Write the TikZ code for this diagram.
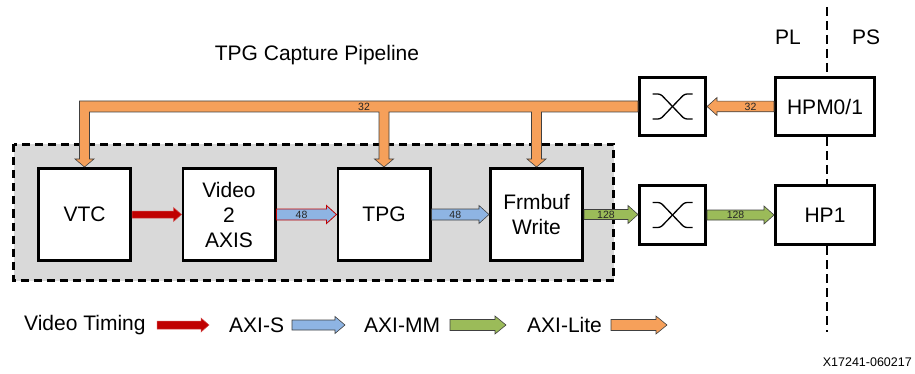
\documentclass[tikz,border=0pt]{standalone}
\usepackage{fontspec}
\setmainfont{Liberation Sans}
\usetikzlibrary{calc}
\definecolor{busorange}{HTML}{F6A05A}
\definecolor{axisblue}{HTML}{8EB4E3}
\definecolor{mmgreen}{HTML}{9BBB59}
\definecolor{vtred}{HTML}{C00000}
\definecolor{pipegray}{HTML}{D9D9D9}
\definecolor{edgegray}{HTML}{404040}
% #1 start, #2 end, #3 half shaft, #4 half head, #5 head length (signed), #6 style
\newcommand{\fatarrowH}[6]{%
  \path[#6] let \p1=(#1), \p2=(#2) in
    (\x1,{\y1+#3}) -- ({\x2-(#5)},{\y1+#3}) -- ({\x2-(#5)},{\y1+#4}) -- (\x2,\y1)
    -- ({\x2-(#5)},{\y1-#4}) -- ({\x2-(#5)},{\y1-#3}) -- (\x1,{\y1-#3}) -- cycle;}
\begin{document}
\begin{tikzpicture}[x=1pt,y=-1pt,
  blk/.style={draw=black,line width=2.6pt,fill=white,inner sep=0pt,align=center,
    font=\fontsize{21}{25}\selectfont},
  sq/.style={blk,minimum width=92.4pt,minimum height=92.4pt},
  lbl/.style={font=\fontsize{21}{25}\selectfont,inner sep=0pt},
  num/.style={font=\fontsize{10.5}{12}\selectfont,inner sep=0pt,text=black!85},
  pipebox/.style={fill=pipegray,draw=black,line width=2.5pt,dash pattern=on 8pt off 5pt},
  pldash/.style={draw=black,line width=2.5pt,dash pattern=on 9pt off 5pt},
  xsym/.style={draw=black,line width=1.3pt,rounded corners=2.5pt},
  orangearr/.style={fill=busorange,draw=edgegray,line width=0.6pt},
  bluearr/.style={fill=axisblue,draw=edgegray,line width=0.6pt},
  blueredarr/.style={fill=axisblue,draw=vtred,line width=0.8pt},
  greenarr/.style={fill=mmgreen,draw=edgegray,line width=0.6pt},
  redarr/.style={fill=vtred,draw=vtred!70,line width=0.5pt}
]
\useasboundingbox (0,0) rectangle (915,374);

% pipeline region
\path[pipebox] (13.5,144.5) rectangle (613.5,280.5);

% blocks
\node[sq] (vtc) at (84.5,214.5) {VTC};
\node[sq] (v2a) at (229,214.5) {Video\\2\\AXIS};
\node[sq] (tpg) at (384,214.5) {TPG};
\node[sq] (fw)  at (536.5,214.5) {Frmbuf\\Write};
\node[blk,minimum width=66.4pt,minimum height=58.4pt] (xb1) at (672.5,106.5) {};
\node[blk,minimum width=99.4pt,minimum height=58.4pt] (hpm) at (825,106.5) {HPM0/1};
\node[blk,minimum width=66.4pt,minimum height=59.4pt] (xb2) at (672.5,215) {};
\node[blk,minimum width=99.4pt,minimum height=59.4pt] (hp1) at (825,215) {HP1};

% crossbar symbols
\draw[xsym] ($(xb1.center)+(-20,-12.5)$) -- ++(8,0) -- ++(24,25) -- ++(8,0);
\draw[xsym] ($(xb1.center)+(20,-12.5)$) -- ++(-8,0) -- ++(-24,25) -- ++(-8,0);
\draw[xsym] ($(xb2.center)+(-20,-12.5)$) -- ++(8,0) -- ++(24,25) -- ++(8,0);
\draw[xsym] ($(xb2.center)+(20,-12.5)$) -- ++(-8,0) -- ++(-24,25) -- ++(-8,0);

% titles
\node[lbl] (title) at (317,55) {TPG Capture Pipeline};
\node[lbl] (pl) at (788,37) {PL};
\node[lbl] (ps) at (866,37) {PS};

% PL/PS boundary
\coordinate (plt) at (827,7);
\coordinate (plb) at (827,332);
\draw[pldash] (plt) -- (plt |- hpm.north);
\draw[pldash] (plt |- hpm.south) -- (plt |- hp1.north);
\draw[pldash] (plt |- hp1.south) -- (plb);

% AXI-Lite bus
\path[orangearr] let \p1=(xb1.west), \p2=(vtc.north), \p3=(tpg.north), \p4=(fw.north) in
  (\x1,\y1+5.5pt) -- (\x2-5pt,\y1+5.5pt) -- (\x2-5pt,\y2+8pt) -- (\x2-9.5pt,\y2+8pt)
  -- (\x2,\y2) -- (\x2+9.5pt,\y2+8pt) -- (\x2+5pt,\y2+8pt) -- (\x2+5pt,\y1-5.5pt)
  -- (\x3-5pt,\y1-5.5pt) -- (\x3-5pt,\y3+8pt) -- (\x3-9.5pt,\y3+8pt) -- (\x3,\y3)
  -- (\x3+9.5pt,\y3+8pt) -- (\x3+5pt,\y3+8pt) -- (\x3+5pt,\y1-5.5pt)
  -- (\x4-5pt,\y1-5.5pt) -- (\x4-5pt,\y4+8pt) -- (\x4-9.5pt,\y4+8pt) -- (\x4,\y4)
  -- (\x4+9.5pt,\y4+8pt) -- (\x4+5pt,\y4+8pt) -- (\x4+5pt,\y1-5.5pt)
  -- (\x1,\y1-5.5pt) -- cycle;
\node[num] (n32a) at (364,107) {32};

\fatarrowH{hpm.west}{xb1.east}{5.3pt}{9pt}{-10pt}{orangearr}
\node[num] (n32b) at ($(hpm.west)!0.5!(xb1.east)+(10,0.5)$) {32};

% data path
\fatarrowH{vtc.east}{v2a.west}{3.5pt}{7pt}{8pt}{redarr}
\fatarrowH{v2a.east}{tpg.west}{5.5pt}{9pt}{10pt}{blueredarr}
\node[num] (n48a) at ($(v2a.east)!0.5!(tpg.west)+(-5,0)$) {48};
\fatarrowH{tpg.east}{fw.west}{5.5pt}{9pt}{10pt}{bluearr}
\node[num] (n48b) at ($(tpg.east)!0.5!(fw.west)+(-5,0)$) {48};
\fatarrowH{fw.east}{xb2.west}{5pt}{9pt}{10pt}{greenarr}
\node[num] (n128a) at ($(fw.east)!0.5!(xb2.west)+(-5,0)$) {128};
\fatarrowH{xb2.east}{hp1.west}{5pt}{9pt}{10pt}{greenarr}
\node[num] (n128b) at ($(xb2.east)!0.5!(hp1.west)+(-5,0)$) {128};

% legend
\node[lbl,anchor=west] (lg1) at (24,325) {Video Timing};
\coordinate (l1s) at (157,325); \coordinate (l1e) at (209,325);
\fatarrowH{l1s}{l1e}{4pt}{7pt}{8pt}{redarr}
\node[lbl,anchor=west] (lg2) at (229,325) {AXI-S};
\coordinate (l2s) at (292,325); \coordinate (l2e) at (345,325);
\fatarrowH{l2s}{l2e}{5pt}{8.5pt}{10pt}{bluearr}
\node[lbl,anchor=west] (lg3) at (364,325) {AXI-MM};
\coordinate (l3s) at (450,325); \coordinate (l3e) at (506,325);
\fatarrowH{l3s}{l3e}{5.5pt}{9pt}{11pt}{greenarr}
\node[lbl,anchor=west] (lg4) at (527,325) {AXI-Lite};
\coordinate (l4s) at (611,325); \coordinate (l4e) at (667,325);
\fatarrowH{l4s}{l4e}{5.5pt}{9pt}{11pt}{orangearr}

% figure id
\node[anchor=east,inner sep=0pt,font=\fontsize{12.5}{14}\selectfont] (fid) at (912,362) {X17241-060217};
\end{tikzpicture}
\end{document}
